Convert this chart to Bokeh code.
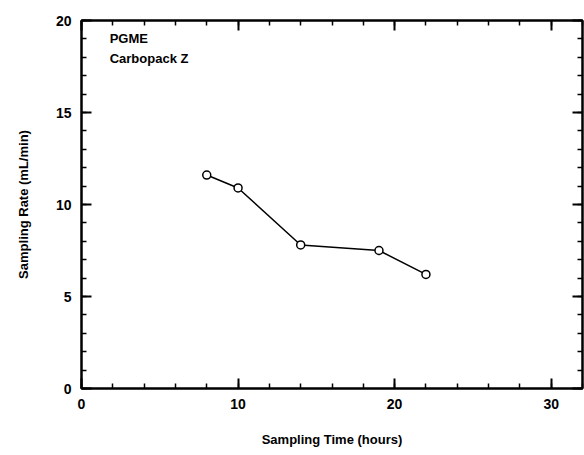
from bokeh.plotting import figure
from bokeh.models import LinearAxis, SingleIntervalTicker, Range1d, Label, CustomJSTickFormatter
from bokeh.embed import file_html
from bokeh.resources import INLINE

# Data
sampling_time = [8, 10, 14, 19, 22]
sampling_rate = [11.6, 10.9, 7.8, 7.5, 6.2]
annot_lines = ["PGME", "Carbopack Z"]

FONT = "Liberation Sans"

p = figure(width=584, height=455, output_backend="svg", toolbar_location=None,
           x_range=Range1d(0, 32), y_range=Range1d(0, 20),
           min_border_left=81, min_border_right=2, min_border_top=20, min_border_bottom=67)
p.xgrid.visible = False
p.ygrid.visible = False
p.outline_line_color = "black"
p.outline_line_width = 2
p.background_fill_color = "white"
p.border_fill_color = "white"

def style_axis(ax, labels=True):
    ax.axis_line_color = "black"
    ax.axis_line_width = 2
    ax.major_tick_in = 10
    ax.major_tick_out = 0
    ax.minor_tick_in = 5
    ax.minor_tick_out = 0
    ax.major_tick_line_width = 2
    ax.minor_tick_line_width = 1.5
    ax.major_tick_line_color = "black"
    ax.minor_tick_line_color = "black"
    if labels:
        ax.major_label_text_font = FONT
        ax.major_label_text_font_style = "bold"
        ax.major_label_text_font_size = "14px"
        ax.major_label_text_color = "black"
        ax.axis_label_text_font = FONT
        ax.axis_label_text_font_style = "bold"
        ax.axis_label_text_font_size = "13px"
        ax.axis_label_text_color = "black"
    else:
        ax.formatter = CustomJSTickFormatter(code="return '';")
        ax.major_label_standoff = 0

p.xaxis.ticker = SingleIntervalTicker(interval=10, num_minor_ticks=5)
p.yaxis.ticker = SingleIntervalTicker(interval=5, num_minor_ticks=5)
style_axis(p.xaxis[0])
style_axis(p.yaxis[0])
p.xaxis.axis_label = "Sampling Time (hours)"
p.yaxis.axis_label = "Sampling Rate (mL/min)"
p.xaxis.major_label_standoff = 10
p.yaxis.major_label_standoff = 10
p.xaxis.axis_label_standoff = 20
p.yaxis.axis_label_standoff = 22

top = LinearAxis(ticker=SingleIntervalTicker(interval=10, num_minor_ticks=5))
right = LinearAxis(ticker=SingleIntervalTicker(interval=5, num_minor_ticks=5))
style_axis(top, labels=False)
style_axis(right, labels=False)
p.add_layout(top, "above")
p.add_layout(right, "right")

p.line(sampling_time, sampling_rate, line_color="black", line_width=1.5)
p.scatter(sampling_time, sampling_rate, marker="circle", size=8,
          fill_color="white", line_color="black", line_width=1.5)

for i, t in enumerate(annot_lines):
    p.add_layout(Label(x=1.8, y=18.6 - 1.08 * i, text=t, text_font=FONT,
                       text_font_style="bold", text_font_size="13px",
                       text_color="black"))

open("out.html", "w").write(file_html(p, INLINE))
